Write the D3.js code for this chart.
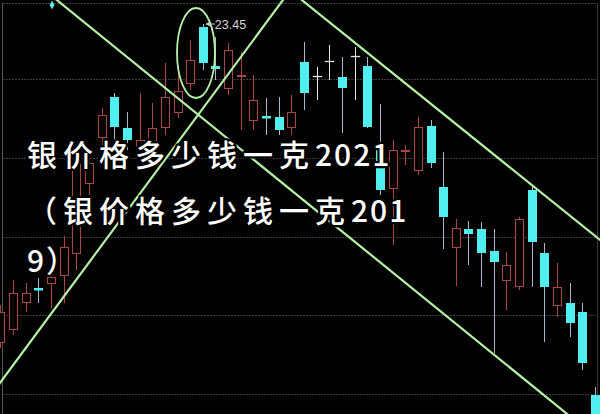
<!DOCTYPE html>
<html><head><meta charset="utf-8">
<script src="https://cdn.jsdelivr.net/npm/d3@7"></script>
<style>html,body{margin:0;padding:0;background:#000;overflow:hidden}</style>
</head><body>
<svg id="c" width="600" height="414"></svg>
<script>
// ---- data ----
const candleIndex = d3.range(48);
const opens  = [17.09,17.35,17.89,18.17,18.27,18.43,18.87,20.27,21.19,21.99,21.37,20.99,20.97,21.39,21.69,22.27,23.39,22.61,22.17,22.40,21.53,21.61,21.59,21.39,22.69,22.41,22.71,22.39,22.81,22.61,20.93,20.17,20.91,20.53,21.41,20.19,18.99,19.35,19.35,18.91,18.33,18.21,20.13,18.87,17.83,17.87,17.69,16.03];
const closes = [17.69,18.07,18.07,18.13,18.39,18.99,20.67,20.67,21.63,21.39,21.13,21.13,21.37,21.99,22.11,22.73,22.67,22.55,22.93,22.42,21.93,21.57,21.33,21.69,22.07,22.41,22.71,22.17,22.81,21.39,20.13,20.93,20.93,21.39,20.67,19.59,19.37,19.25,18.87,18.69,18.63,19.55,19.09,18.19,18.19,17.47,16.67,15.53];
const highs  = [17.83,18.33,18.27,18.37,18.69,19.21,20.93,20.93,21.77,22.07,21.69,22.07,21.87,22.67,22.47,23.13,23.45,23.19,23.07,22.89,22.43,21.97,21.99,22.03,23.09,22.59,23.03,22.79,22.99,22.79,21.85,21.13,21.03,21.59,21.53,20.89,19.55,19.51,19.49,19.35,18.89,19.59,20.23,19.07,18.67,18.27,17.87,16.19];
const lows   = [16.97,17.23,17.69,17.87,17.77,17.87,18.53,20.03,20.93,21.13,20.93,20.83,20.83,21.23,21.57,22.13,22.53,22.33,22.03,21.33,21.33,21.23,21.23,21.23,21.73,21.93,22.33,21.27,21.93,21.37,20.03,19.03,20.63,20.43,20.57,18.95,18.21,18.63,18.19,16.87,17.73,18.13,18.19,17.09,17.59,17.19,16.53,15.43];
const gridLevels = [23.87,22.35,20.77,19.19,17.63,16.05];
// trend lines: [index, price] end points
const trendLine1 = [[3.53,24.12],[45.82,15.44]];
const trendLine2 = [[-1.61,15.73],[22.89,24.12]];
const trendLine3 = [[22.89,24.12],[48.98,18.81]];
const highlight = {i:15.46, p:22.87, di:1.5, dp:0.9};
const marker = [{i:4.08, p:23.83}];
const titleLines = [
  [["银价格多少钱一克","cjk"],["2021","num"]],
  [["（银价格多少钱一克","cjk"],["201","num"]],
  [["9","num"],["）","cjk"]]
];

// ---- drawing ----
const W=600,H=414;
const x = d3.scaleLinear().domain([0,47]).range([0.4,595]);
const y = d3.scaleLinear().domain([15.65,23.93]).range([414,0]);
const svg = d3.select('#c');
svg.append('rect').attr('width',W).attr('height',H).attr('fill','#000');
svg.append('defs').append('clipPath').attr('id','clip')
  .append('rect').attr('x',0).attr('y',0).attr('width',W).attr('height',H);
const g = svg.append('g').attr('clip-path','url(#clip)');

// grid
g.selectAll('line.grid').data(gridLevels).join('line')
  .attr('x1',3).attr('x2',597)
  .attr('y1',d=>Math.round(y(d))+0.5).attr('y2',d=>Math.round(y(d))+0.5)
  .attr('stroke','#3c3c3c').attr('stroke-width',1).attr('stroke-dasharray','2,1');
g.append('line').attr('x1',2.5).attr('x2',2.5).attr('y1',y(gridLevels[0])).attr('y2',H)
  .attr('stroke','#555').attr('stroke-width',1);
g.append('line').attr('x1',597.5).attr('x2',597.5).attr('y1',y(gridLevels[0])).attr('y2',H)
  .attr('stroke','#3a3a3a').attr('stroke-width',1);

const RED='#a84646', CYAN='#50eeee', CYWICK='#a4b6c8', WHITE='#e4e4e4';
const bw = (x(1)-x(0))*0.74;
const data = candleIndex.map(i=>({i,o:opens[i],c:closes[i],h:highs[i],l:lows[i]}));
const cg = g.append('g');
data.forEach(d=>{
  const cx = Math.round(x(d.i))+0.5;
  const up = d.c>d.o, down = d.c<d.o;
  const yo=y(d.o), yc=y(d.c), yh=y(d.h), yl=y(d.l);
  if(up){
    cg.append('line').attr('x1',cx).attr('x2',cx).attr('y1',yh).attr('y2',yc).attr('stroke',RED);
    cg.append('line').attr('x1',cx).attr('x2',cx).attr('y1',yo).attr('y2',yl).attr('stroke',RED);
    cg.append('rect').attr('x',Math.round(cx-bw/2)+0.5).attr('y',Math.round(yc)+0.5)
      .attr('width',Math.round(bw)-1).attr('height',Math.max(1,Math.round(yo-yc)))
      .attr('fill','#000').attr('stroke',RED).attr('stroke-width',1.1);
  } else if(down){
    cg.append('line').attr('x1',cx).attr('x2',cx).attr('y1',yh).attr('y2',yl).attr('stroke',CYWICK);
    cg.append('rect').attr('x',Math.round(cx-bw/2)).attr('y',yo)
      .attr('width',Math.round(bw)).attr('height',Math.max(2.5,yc-yo)).attr('fill',CYAN);
  } else {
    cg.append('line').attr('x1',cx).attr('x2',cx).attr('y1',yh).attr('y2',yl).attr('stroke',WHITE);
    cg.append('line').attr('x1',cx-bw/2).attr('x2',cx+bw/2).attr('y1',Math.round(yo)+0.5).attr('y2',Math.round(yo)+0.5)
      .attr('stroke',WHITE).attr('stroke-width',1.3);
  }
});

// trend lines
const lineGen = d3.line().x(d=>x(d[0])).y(d=>y(d[1]));
g.selectAll('path.trend').data([trendLine1,trendLine2,trendLine3]).join('path')
  .attr('d',lineGen).attr('fill','none').attr('stroke','#b6f0a6').attr('stroke-width',2.2);

// highlight ellipse
g.append('ellipse')
  .attr('cx',x(highlight.i)).attr('cy',y(highlight.p))
  .attr('rx',x(highlight.i+highlight.di)-x(highlight.i))
  .attr('ry',y(highlight.p-highlight.dp)-y(highlight.p))
  .attr('fill','none').attr('stroke','#b6f0a6').attr('stroke-width',1.8);

// marker diamond
g.selectAll('path.mk').data(marker).join('path')
  .attr('transform',d=>`translate(${x(d.i)},${y(d.p)})`)
  .attr('d',d3.symbol(d3.symbolDiamond,22)).attr('fill','#5fe8e8');

// max annotation
const maxI = d3.maxIndex(highs);
const ax = x(maxI), ay = y(highs[maxI]);
g.append('line').attr('x1',ax+3).attr('x2',ax+12).attr('y1',ay).attr('y2',ay).attr('stroke','#cfcfcf');
g.append('path').attr('d',`M${ax+3},${ay} l4,-2.5 l0,5 z`).attr('fill','#cfcfcf');
g.append('text').attr('x',ax+12).attr('y',ay+4.5)
  .attr('font-family','Liberation Sans, Arial, sans-serif').attr('font-size',12.5)
  .attr('fill','#d4d4d4').text(d3.format('.2f')(highs[maxI]));

// overlay title
const tg = svg.append('g');
const baselines = [166, 222, 272];
titleLines.forEach((parts,k)=>{
  const t = tg.append('text').attr('x',27).attr('y',baselines[k])
    .attr('font-family','"Noto Sans CJK SC", sans-serif').attr('font-size',30).attr('font-weight',500)
    .attr('fill','#fff').attr('stroke','#000').attr('stroke-width',4.5)
    .attr('stroke-linejoin','round').attr('paint-order','stroke');
  parts.forEach(p=>{
    t.append('tspan').attr('letter-spacing',p[1]==='cjk'?6:2).text(p[0]);
  });
});
</script>
</body></html>
